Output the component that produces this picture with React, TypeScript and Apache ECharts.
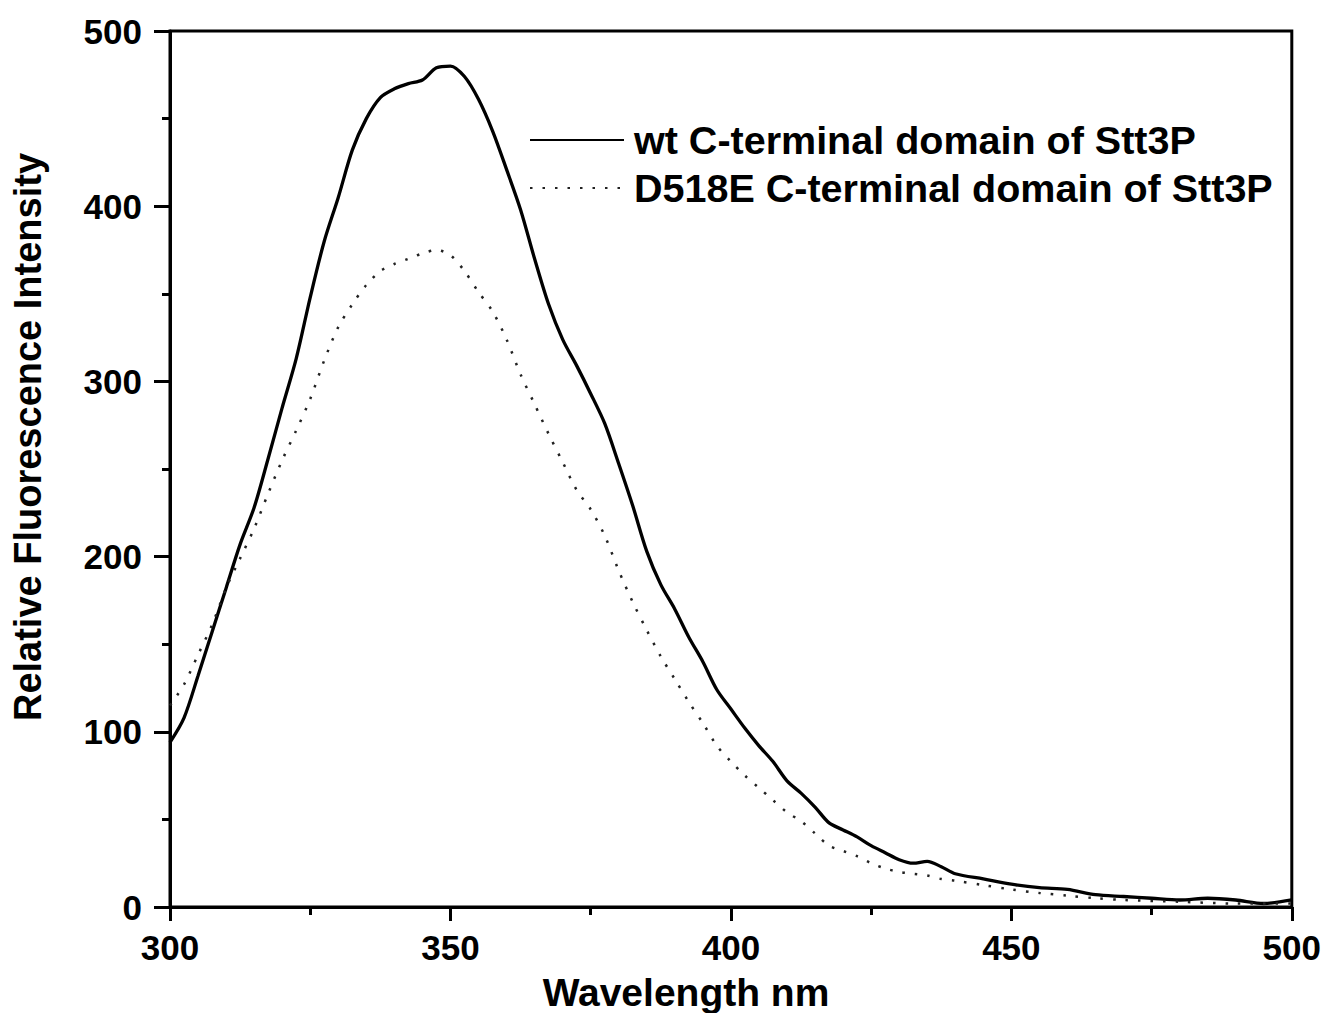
import React, { useEffect, useRef } from "react";
import * as echarts from "echarts";

const wtWavelength = [300, 302.5, 305, 307.5, 310, 312.5, 315, 317.5, 320, 322.5, 325, 327.5, 330, 332.5, 335, 337.5, 340, 342.5, 345, 347.5, 350, 352.5, 355, 357.5, 360, 362.5, 365, 367.5, 370, 372.5, 375, 377.5, 380, 382.5, 385, 387.5, 390, 392.5, 395, 397.5, 400, 402.5, 405, 407.5, 410, 412.5, 415, 417.5, 420, 422.5, 425, 427.5, 430, 432.5, 435, 437.5, 440, 445, 450, 455, 460, 465, 470, 475, 480, 485, 490, 495, 500];
const wtIntensity = [94, 108, 132, 157, 182, 207, 228, 256, 285, 313, 348, 380, 405, 432, 450, 462, 467, 470, 472, 479, 480, 474, 461, 443, 421, 398, 370, 344, 324, 309, 293, 276, 253, 229, 203, 184, 170, 154, 140, 124, 113, 102, 92, 83, 72, 65, 57, 48, 44, 40, 35, 31, 27, 25, 26, 23, 19, 16, 13, 11, 10, 7, 6, 5, 4, 5, 4, 2, 4];

const mutWavelength = [300, 302.5, 305, 307.5, 310, 312.5, 315, 317.5, 320, 322.5, 325, 327.5, 330, 332.5, 335, 337.5, 340, 342.5, 345, 347.5, 350, 352.5, 355, 357.5, 360, 362.5, 365, 367.5, 370, 372.5, 375, 377.5, 380, 382.5, 385, 387.5, 390, 392.5, 395, 397.5, 400, 402.5, 405, 407.5, 410, 412.5, 415, 417.5, 420, 422.5, 425, 427.5, 430, 432.5, 435, 437.5, 440, 445, 450, 455, 460, 465, 470, 480, 490, 500];
const mutIntensity = [115, 127, 144, 161, 182, 199, 216, 236, 255, 272, 290, 312, 331, 344, 355, 363, 367, 370, 373, 375, 372, 363, 351, 340, 324, 304, 287, 270, 254, 238, 227, 212, 192, 174, 158, 143, 130, 117, 105, 92, 83, 75, 68, 61, 54, 49, 42, 35, 32, 29, 25, 22, 20, 19, 18, 16, 15, 12.5, 10, 8, 6.5, 5, 4, 3, 2, 2];

const seriesNames = ["wt C-terminal domain of Stt3P", "D518E C-terminal domain of Stt3P"];
const xAxisTitle = "Wavelength nm";
const yAxisTitle = "Relative Fluorescence Intensity";

const FONT = '"Liberation Sans", Arial, sans-serif';

export default function App() {
  const ref = useRef<HTMLDivElement>(null);
  useEffect(() => {
    document.body.style.margin = "0";
    const chart = echarts.init(ref.current!, null, { renderer: "svg" });
    const pair = (xs: number[], ys: number[]) => xs.map((x, i) => [x, ys[i]]);
    chart.setOption({
      animation: false,
      backgroundColor: "#ffffff",
      textStyle: { fontFamily: FONT },
      grid: {
        left: 170,
        right: 30,
        top: 31,
        bottom: 106,
        show: true,
        borderColor: "#000",
        borderWidth: 3,
        backgroundColor: "transparent",
      },
      legend: {
        orient: "vertical",
        left: 529,
        top: 116,
        padding: 0,
        itemWidth: 94,
        itemHeight: 20,
        itemGap: 0,
        itemStyle: { opacity: 0 },
        textStyle: {
          fontFamily: FONT,
          fontWeight: "bold",
          fontSize: 39.5,
          color: "#000",
          lineHeight: 48,
          padding: [0, 0, 0, 5],
        },
        data: seriesNames,
      },
      xAxis: {
        type: "value",
        min: 300,
        max: 500,
        interval: 50,
        splitLine: { show: false },
        axisLine: { onZero: false, lineStyle: { color: "#000", width: 3 } },
        axisTick: { show: true, inside: false, length: 14, lineStyle: { color: "#000", width: 3 } },
        minorTick: { show: true, splitNumber: 2, length: 8, lineStyle: { color: "#000", width: 3 } },
        axisLabel: {
          margin: 23,
          fontFamily: FONT,
          fontWeight: "bold",
          fontSize: 35,
          color: "#000",
        },
      },
      yAxis: {
        type: "value",
        min: 0,
        max: 500,
        interval: 100,
        splitLine: { show: false },
        axisLine: { lineStyle: { color: "#000", width: 3 } },
        axisTick: { show: true, inside: false, length: 16, lineStyle: { color: "#000", width: 3 } },
        minorTick: { show: true, splitNumber: 2, length: 8, lineStyle: { color: "#000", width: 3 } },
        axisLabel: {
          margin: 28,
          fontFamily: FONT,
          fontWeight: "bold",
          fontSize: 35,
          color: "#000",
        },
      },
      graphic: [
        {
          type: "text",
          x: 686,
          y: 992,
          style: {
            text: xAxisTitle,
            fontFamily: FONT,
            fontWeight: "bold",
            fontSize: 39,
            fill: "#000",
            align: "center",
            verticalAlign: "middle",
          },
        },
        {
          type: "text",
          x: 28,
          y: 437,
          rotation: Math.PI / 2,
          style: {
            text: yAxisTitle,
            fontFamily: FONT,
            fontWeight: "bold",
            fontSize: 38,
            fill: "#000",
            align: "center",
            verticalAlign: "middle",
          },
        },
      ],
      series: [
        {
          name: seriesNames[0],
          type: "line",
          data: pair(wtWavelength, wtIntensity),
          symbol: "none",
          smooth: 0.3,
          lineStyle: { color: "#000", width: 3.3, type: "solid" },
          itemStyle: { color: "#000" },
        },
        {
          name: seriesNames[1],
          type: "line",
          data: pair(mutWavelength, mutIntensity),
          symbol: "none",
          smooth: 0.3,
          lineStyle: { color: "#222", width: 2.5, type: [2.5, 10] },
          itemStyle: { color: "#222" },
        },
      ],
    });
    return () => chart.dispose();
  }, []);
  return <div ref={ref} style={{ width: 1324, height: 1013 }} />;
}
